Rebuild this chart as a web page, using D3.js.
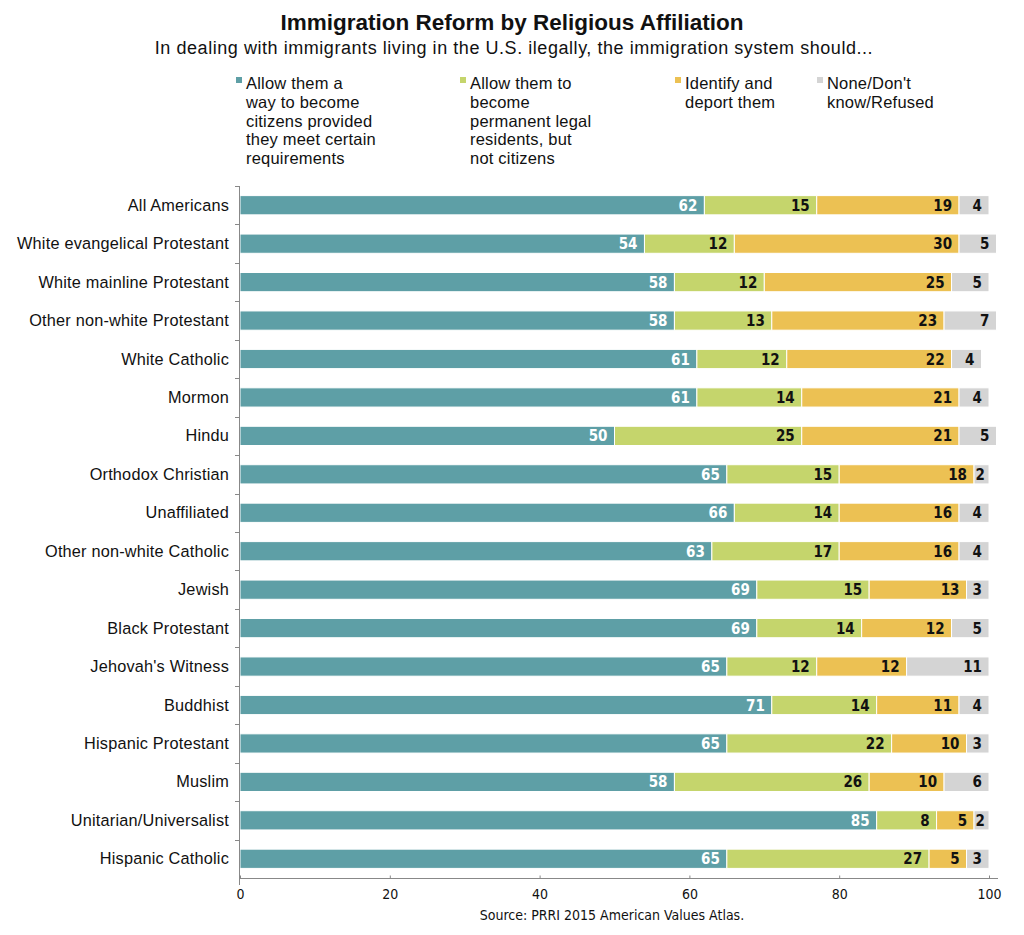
<!DOCTYPE html>
<html><head><meta charset="utf-8">
<script src="https://cdn.jsdelivr.net/npm/d3@7"></script>
<style>
body{margin:0;background:#fff;}
svg{display:block;}
</style></head>
<body><svg id="c" width="1024" height="935"></svg>
<script>
const categories = ["All Americans","White evangelical Protestant","White mainline Protestant","Other non-white Protestant","White Catholic","Mormon","Hindu","Orthodox Christian","Unaffiliated","Other non-white Catholic","Jewish","Black Protestant","Jehovah's Witness","Buddhist","Hispanic Protestant","Muslim","Unitarian/Universalist","Hispanic Catholic"];
const citizens  = [62,54,58,58,61,61,50,65,66,63,69,69,65,71,65,58,85,65];
const residents = [15,12,12,13,12,14,25,15,14,17,15,14,12,14,22,26,8,27];
const deport    = [19,30,25,23,22,21,21,18,16,16,13,12,12,11,10,10,5,5];
const noneDK    = [4,5,5,7,4,4,5,2,4,4,3,5,11,4,3,6,2,3];
const seriesNames = [
  ["Allow them a","way to become","citizens provided","they meet certain","requirements"],
  ["Allow them to","become","permanent legal","residents, but","not citizens"],
  ["Identify and","deport them"],
  ["None/Don't","know/Refused"]
];
const xTicks = [0,20,40,60,80,100];
const colors = ["#5e9fa6","#c5d56c","#ecc153","#d4d4d4"];
const labelColors = ["#ffffff","#111111","#111111","#111111"];

const svg = d3.select("#c");
const narrow = "'DejaVu Sans Condensed','Liberation Sans Narrow',sans-serif";
const sans = "'Liberation Sans','Helvetica Neue',Arial,sans-serif";

const x = d3.scaleLinear().domain([0,100]).range([240,989]);
const y = d3.scaleBand().domain(categories).range([186,878]).paddingInner(0.5).paddingOuter(0.25);

// Title
svg.append("text").attr("x",512).attr("y",30).attr("text-anchor","middle")
  .attr("font-family",sans).attr("font-weight","bold").attr("font-size",22.5).attr("fill","#111")
  .text("Immigration Reform by Religious Affiliation");
svg.append("text").attr("x",514).attr("y",54).attr("text-anchor","middle")
  .attr("font-family",sans).attr("font-size",18).attr("letter-spacing",0.55).attr("fill","#111")
  .text("In dealing with immigrants living in the U.S. ilegally, the immigration system should...");

// Legend
const legX = [236,460,675,817];
seriesNames.forEach((lines,i)=>{
  const g = svg.append("g");
  g.append("rect").attr("x",legX[i]).attr("y",77).attr("width",6).attr("height",6).attr("fill",colors[i]);
  lines.forEach((t,j)=>{
    g.append("text").attr("x",legX[i]+10).attr("y",89+j*18.8)
      .attr("font-family",sans).attr("font-size",16.5).attr("letter-spacing",0.2).attr("fill","#111").text(t);
  });
});

// Stack
const data = categories.map((c,i)=>({cat:c, vals:[citizens[i],residents[i],deport[i],noneDK[i]]}));
const rows = svg.append("g").selectAll("g").data(data).join("g");
rows.each(function(d){
  let acc = 0;
  const g = d3.select(this);
  d.vals.forEach((v,k)=>{
    const x0 = x(acc), x1 = x(acc+v);
    g.append("rect").attr("x",x0).attr("y",y(d.cat)).attr("width",x1-x0).attr("height",y.bandwidth())
      .attr("fill",colors[k]).attr("stroke","#fff").attr("stroke-width",1);
    g.append("text").attr("x",x1-(v<3?4:7)).attr("y",y(d.cat)+y.bandwidth()/2+5.5)
      .attr("text-anchor","end").attr("font-family",narrow).attr("font-weight","bold")
      .attr("font-size",15).attr("fill",labelColors[k]).text(v);
    acc += v;
  });
  g.append("text").attr("x",229).attr("y",y(d.cat)+y.bandwidth()/2+5.5)
    .attr("text-anchor","end").attr("font-family",sans).attr("font-size",16.3).attr("letter-spacing",0.2).attr("fill","#111").text(d.cat);
});

// Y axis line with boundary ticks
const ya = svg.append("g").attr("stroke","#888").attr("stroke-width",1);
ya.append("line").attr("x1",239.5).attr("x2",239.5).attr("y1",186).attr("y2",885);
const step = y.step();
for(let i=0;i<=categories.length;i++){
  const yy = Math.round(y(categories[0]) - y.bandwidth()/2 + i*step)+0.5;
  if(yy>878) break;
  ya.append("line").attr("x1",235).attr("x2",239.5).attr("y1",yy).attr("y2",yy);
}

// X axis
const xa = svg.append("g").attr("transform","translate(0,878.5)")
  .call(d3.axisBottom(x).tickValues(xTicks).tickSize(-3).tickPadding(8).tickFormat(d3.format("d")));
xa.select(".domain").remove();
xa.append("line").attr("x1",239.5).attr("x2",998).attr("y1",0).attr("y2",0).attr("stroke","#888");
xa.selectAll(".tick line").attr("stroke","#888");
xa.selectAll(".tick text").attr("font-family",narrow).attr("font-size",14).attr("fill","#111").attr("dy","0.9em");

// Source
svg.append("text").attr("x",612).attr("y",920).attr("text-anchor","middle")
  .attr("font-family",narrow).attr("font-size",14).attr("fill","#111")
  .text("Source: PRRI 2015 American Values Atlas.");
</script></body></html>
